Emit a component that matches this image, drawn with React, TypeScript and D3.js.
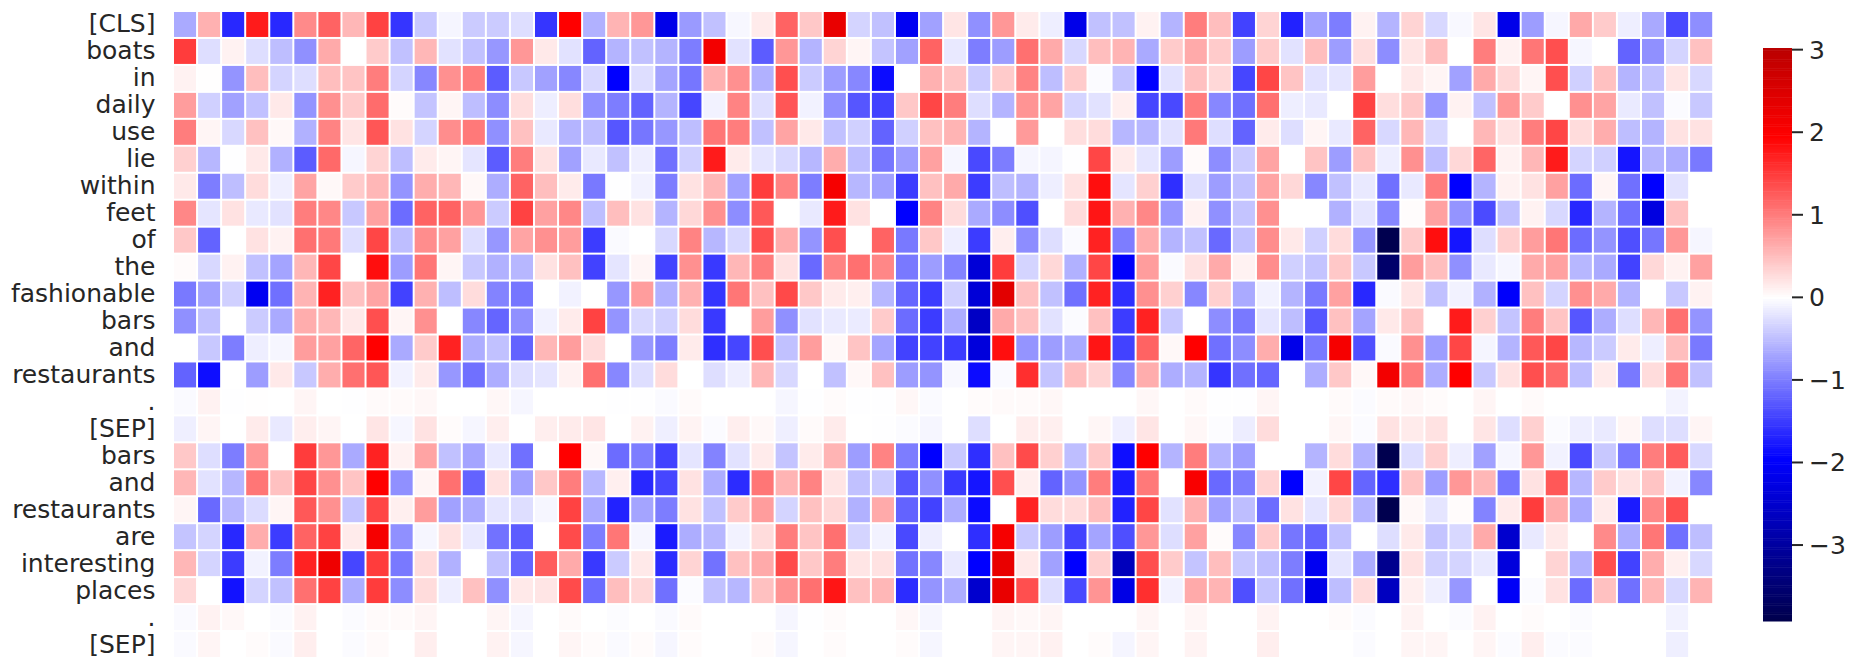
import * as d3 from "d3";

const tokens = ["[CLS]", "boats", "in", "daily", "use", "lie", "within", "feet", "of", "the", "fashionable", "bars", "and", "restaurants", ".", "[SEP]", "bars", "and", "restaurants", "are", "interesting", "places", ".", "[SEP]"];

// one row per token, 64 hidden dims
const rowCls = [-.65,.6,-1.65,1.75,-1.65,.9,1.2,.55,1.45,-1.55,-.42,-.08,-.4,-.4,-.25,-1.55,1.96,-.6, .58,.8,-2.2,-.78,-.48,-.06,.15,1.2,.42,2.3,-.33,-.48,-2.1,-.72,.2,-.85,.8,.15,-.13,-2.2,-.48,-.48,.1,-.58,1, .5,-1.45,.33,-1.7,-.72,-1,.1,-.58,.33,-.3,-.05,.2,-2.2,-.75,-.07,.66,.4,-.13,-.66,-1.4,-.87];
const rowBoats = [1.5,-.25,.1,-.25,-.5,-.85,.65,0,.4,-.48,.55,-.22,-.48,-.8,.8,.17,-.22,-1.2, -.58,-.48,-.58,-1,2.15,-.22,-1.25,.8,-.58,.33,.08,-.45,-.72,1.2,-.17,-1,-.75,1.1,.65,-.3,.5,.58,-.65,.4,.65, .4,-.75,.4,-.22,.5,-.75,.25,-.88,.2,.5,0,1,.1,1.05,1.35,-.07,0,-1.2,-.85,-.33,.48];
const rowIn = [.1,.01,-.82,.5,-.33,-.25,.5,.45,1,-.33,-.92,.85,1,-1.25,-.42,-.72,-.92,-.3, -1.96,-.25,-.7,-1.05,.6,.85,-.6,1.35,-.4,-.75,-.92,-1.87,0,.6,.45,-.4,.4,.95,-.5,.4,-.03,-.45,-1.95,-.22,.48, .3,-1.42,1.42,.45,-.22,-.2,.75,0,.17,.08,-.72,.65,.3,.08,1.35,-.36,.48,-.58,-.48,.2,-.3];
const rowDaily = [.75,-.36,-.72,-.48,.17,-.82,.85,.4,1.13,.03,-.45,.08,-.5,-.88,.25,-.13,.25,-.85, -1,-1.2,-.58,-1.42,-.1,.95,-.25,1.3,-.1,-.85,-1.3,-1.45,.42,1.42,1,-.25,-.58,.82,.7,-.33,-.22,.12,-1.42,-1.4,1, -.92,-1.1,1.1,-.13,-.17,0,1.45,.25,.42,-.8,.1,-.48,.8,.4,0,.85,.7,-.16,-.48,-.03,-.42];
const rowUse = [1,.08,-.3,.48,.05,-.6,.95,.2,1.3,.22,-.33,.88,1.03,-.85,.48,-.17,-.58,-.5, -1.3,-1.05,-.8,-.5,1.05,1,-.48,.7,.17,-.48,-.36,-1.2,-.36,.48,.58,-.58,-.01,.78,0,.25,.27,-.55,-.55,-.22,1.03, -.25,-1.2,.15,-.25,.08,-.17,1.2,-.3,.55,-.3,0,.55,.22,1,1.42,.27,.63,-.5,-.58,.22,.22];
const rowLie = [.36,-.55,-.01,.17,-.6,-1.25,1.15,-.07,.33,-.5,.15,.08,-.2,-1.25,1,.22,-.72,-.17, -.48,-.13,-1.1,-.36,1.75,.15,-.2,-.3,-.55,.63,-.5,-1.05,-.75,.72,-.07,-1.4,-1,-.07,-.08,-.01,1.42,.15,-.2,-.75,.04, -.88,-.4,.7,0,.45,-.75,.48,-.13,.85,-.5,.3,1.18,.1,.55,1.75,-.33,-.36,-1.8,-.58,-.63,-1.03];
const rowWithin = [.17,-1,-.5,.27,-.12,.7,.05,.4,.55,-.82,.63,.55,.05,-.63,1.2,.5,.15,-1.03, -.01,-.1,-1,.22,.55,-.72,1.5,.95,-1,2.1,-.55,-.72,-1.5,.48,.65,-1.5,-.5,-.58,-.13,.22,1.85,-.2,.36,-1.6,-.25, -.75,-.48,.7,.3,-.92,-.48,-.17,-1.1,-.17,1,-1.96,-.58,.1,.22,.72,-1.13,.08,-1.1,-1.96,-.22,0];
const rowFeet = [.92,-.2,.22,-.17,-.22,1,.92,-.42,.72,-1.13,1.2,1.2,.8,-.4,1.45,.72,.92,-.5, .5,.22,-.58,.3,.85,-.88,1.28,0,-.17,1.75,.22,0,-1.96,.95,.27,-.65,-.88,-1.35,0,.27,1.8,.6,.92,-.8,.1, -.85,-.45,.85,0,0,-.6,-.2,-.92,.02,.72,-.82,-1.38,-.48,.1,-.3,-1.65,-.58,-1.1,-2.3,.48,0];
const rowOf = [.42,-1.2,0,.22,.1,1.1,1.03,-.25,1.42,-.5,.88,.72,-.25,-.8,.7,.85,.75,-1.5, -.04,0,-.3,.95,-.55,-.3,1.35,.63,-.82,1.35,0,1.2,-1.03,.42,-.13,-1.5,.13,-.88,-.25,-.04,1.7,-1,.63,-.58,-.48, -1.15,-.48,.88,.17,-.36,.27,-.8,-3.9,.4,1.85,-1.8,-.25,.36,.75,1.05,-1.13,-.82,-1.35,-1.05,.8,-.07];
const rowThe = [.03,-.3,.1,-.48,-.7,.55,1.42,0,1.85,-.75,1.05,.08,-.42,-.6,-.55,.22,.48,-1.45, -.2,.08,-1.45,.85,-1.52,.55,1,.22,-1.15,.95,1.1,.92,-1.03,-.75,-.95,-2.4,1.5,-.33,.3,-.6,1.42,-2,.75,-.04,.22, .65,.1,.88,-.36,-.45,.42,-.42,-3.6,.75,.5,-.85,-.17,-.07,.65,.72,-.55,-.65,-1.45,.3,.1,.72];
const rowFashionable = [-1.03,-.72,-.36,-2.1,-1.1,.58,1.7,.48,.7,-1.45,.6,-.5,.27,-.95,-1.05,0,-.1,0, -.8,.75,-.6,.6,-1.55,1.05,.48,1.4,.42,.15,.12,-.55,-1.18,-1.5,-.36,-2.4,2.4,.48,-.48,-1.1,1.7,-1.6,.85,.36,-.92, .36,-.65,-.1,-.58,-1.03,.72,-1.65,-.04,.2,-.48,-.1,-.6,-2,.48,-.33,.85,.65,-.58,0,-.42,.1];
const rowBars = [-.85,-.48,0,-.4,-.65,.63,.55,.17,1.35,.08,.85,0,-.92,-1.18,-.85,-.1,.15,1.45, -.82,-.3,-.36,.27,-1.52,0,.75,-.85,-.22,-.16,-.15,.4,-1.13,-1.5,-.63,-2.6,.65,.48,-.22,-.03,.48,-1.5,1.7,-.42,0, -.88,-1.03,-.2,-.5,-1.3,.48,-.7,.17,.45,0,1.75,.36,-.45,1,.45,-1.3,-.63,-.25,.55,1.1,-.82];
const rowAnd = [0,-.42,-1,-.13,-.07,.75,.72,1.18,1.96,-.65,.4,1.7,-.63,-.48,-1.2,.55,.75,.27, 0,-.8,-1,.15,-1.6,-1.42,1.35,-.48,.75,.05,.45,-.7,-1.45,-1.45,-1.5,-2.35,1.85,-.82,-.75,-.65,1.8,-1.45,1.2,.05,1.96, -1.1,-.88,.63,-2.2,-1.03,2.1,-1.35,-.04,.85,-.75,1.42,-.08,-.58,1.28,1.42,-.55,-.4,.15,-.13,.5,-1.03];
const rowRestaurants = [-1.2,-1.85,0,-.75,.17,-.42,.63,1.1,1.3,-.1,.15,-.8,-1.1,-.63,-.25,-.2,.1,1.1, -.92,-.25,.27,0,-.25,-.13,.55,-.3,0,-.48,.05,.48,-.75,-.82,-.05,-1.87,-.04,1.6,-.45,.5,.33,-.92,.63,-.63,-.58, -1.55,-1.1,-1.18,0,-.63,.42,.05,2.15,1,-.63,1.96,-.42,.22,1.35,1.15,-.5,.15,-1.03,.27,1.05,-.48];
const rowDot = [-.04,.1,-.01,.01,0,.08,0,-.01,.04,.04,.06,0,0,.06,-.07,0,0,0, -.01,-.01,-.04,.04,0,0,0,-.07,-.01,.03,-.01,-.01,.06,-.04,0,.03,.04,.04,.06,0,0,0,.06,0,.04, -.01,-.01,.08,0,0,.04,-.03,.04,.06,.03,0,.08,0,.04,0,0,0,0,0,-.09,0];
const rowSep = [-.12,.08,0,.15,-.17,.13,.08,0,.2,-.07,.22,.03,-.07,.13,0,.13,.15,.2, 0,.1,-.12,.09,-.03,.13,.05,-.12,.04,.15,0,-.01,-.03,-.07,0,-.25,0,.14,.12,0,.07,-.12,.2,0,.06, -.02,-.14,.27,0,0,.07,-.03,.22,.15,.22,0,.2,-.25,.36,-.03,-.13,-.16,.07,-.25,-.25,.08];
const rowBars2 = [.42,-.25,-1,.8,0,1.5,.8,-.65,1.7,.1,.7,-.48,-.7,-.17,-1.1,0,1.96,.05, -1.13,-1,-1.45,-.2,-.95,-.22,.15,-.45,.15,.58,-.75,.95,-1,-1.97,-.42,-1.6,.48,1.38,.36,-.5,.42,-1.85,1.96,-.58,1, -.58,-.75,0,0,-.58,.27,-.6,-3.9,-.25,.36,-.13,-.72,-.07,.8,-.1,-1.38,-.42,-1.03,1,1.25,-.3];
const rowAnd2 = [.55,-.22,-.55,1.05,.48,1.42,.85,.45,1.96,-.85,.08,1.1,-1.2,.22,-.72,.42,1,-.55, .12,-1.65,-1.42,.22,-.63,-1.62,1.05,.58,.95,.2,-.48,-.4,-1.3,-.85,-1.52,-1.8,1.35,.12,-1.2,-.82,1,-1.75,1.03,0,2.05, -1.15,-1,.33,-1.96,-.1,1.42,-1.18,-1.6,.45,-.75,.8,.55,-1.05,.22,1.28,-.55,.4,.22,.45,-.1,-.92];
const rowRestaurants2 = [.08,-1.15,-.55,-.27,.08,1.28,.85,-.45,1.42,.12,.75,-.72,-.65,-.2,-.25,-.07,1.45,-.65, -1.7,-.7,-1,.22,-.48,.4,.75,-.33,.48,.3,-.6,.65,-1.2,-1.45,-.63,-1.87,0,1.7,.27,.27,.5,-1.7,1.42,-.22,.6, -.72,-.5,-1.13,.22,-.2,.3,-.58,-3.9,.05,-.2,.03,-.95,.15,1.5,.63,-.65,.15,-1.75,.92,1.35,0];
const rowAre = [-.45,-.33,-1.65,.63,-1.5,1.2,1.45,.15,2.1,-.85,-.07,.22,-.17,-1.08,-1.25,0,1.38,-1, 1.05,-.07,-1.75,-.63,-.55,-.1,.27,1,.45,1.1,-.33,-.1,-1.4,-.13,0,-1.6,2.1,-.42,-.75,-1.45,-.7,-1.35,.8,-.25,.72, .03,-.92,.4,-1.05,-1.2,-.48,0,-.25,.16,-.45,-.3,.65,-2.5,-.17,.17,0,.9,-.63,1.05,-1.1,-.5];
const rowInteresting = [.55,-.33,-1.5,-.1,-1,1.7,2.2,-1.42,1.5,-1.03,.27,-.6,0,-.48,-1.18,1.25,.65,-1.52, -.4,.17,-1.62,.33,-1.08,.48,.65,1.38,.42,1,.2,.22,-1.08,-.92,-.17,-1.96,2.3,.17,-.72,-1.96,.36,-2.7,1.35,.4,-.45, .5,-.42,-.5,-1,-2.1,-.2,-.63,-3.2,.22,-.36,-.33,-.17,-2.35,0,.33,-.6,1.35,-1.45,.63,.12,-.3];
const rowPlaces = [.3,0,-1.82,-.33,-.48,1.1,1.45,-.63,1.5,-.88,.27,-.13,.48,-.85,.17,.2,1.38,-1.13, .5,.3,-1.1,-.03,-.48,-.55,.48,.82,1.1,1.8,.48,.55,-1.62,-.82,-.63,-2.5,2.3,1.35,-.25,-1.4,.82,-2.25,1.6,-.1,.65, .58,-1.35,-.45,-1.1,-2.2,-.5,.27,-2.65,.12,-.12,-.8,0,-2.05,-.03,.22,-1.13,.48,-1.1,.55,-.3,.58];
const rowDot2 = [-.04,.1,.05,0,-.03,.1,0,-.03,.04,.04,.08,0,0,.08,-.07,0,.04,0, -.02,0,-.04,.04,0,0,0,-.07,-.01,.03,0,0,.06,-.07,0,0,.08,.05,.08,0,0,0,.07,0,.07, 0,0,.09,0,0,.03,-.03,0,.09,0,-.03,.1,0,.03,0,-.03,0,0,0,-.1,0];
const rowSep2 = [-.04,.08,0,.03,-.04,.13,0,-.03,.04,0,.13,0,0,.1,-.07,0,.08,.03, -.04,.03,-.07,.03,0,0,.03,-.07,0,.03,0,0,.03,-.07,0,0,.08,.08,.11,0,.03,-.08,.08,0,.09, 0,0,.13,0,0,0,-.03,0,.08,.08,0,.08,-.03,.13,-.03,-.03,0,0,0,-.12,0];

const values = [rowCls, rowBoats, rowIn, rowDaily, rowUse, rowLie, rowWithin, rowFeet, rowOf, rowThe, rowFashionable, rowBars, rowAnd, rowRestaurants, rowDot, rowSep, rowBars2, rowAnd2, rowRestaurants2, rowAre, rowInteresting, rowPlaces, rowDot2, rowSep2];

const barTicks = [-3, -2, -1, 0, 1, 2, 3];
const vmin = -3.92;
const vmax = 3.02;

const textColor = "#262626";
const font = "'DejaVu Sans', sans-serif";

// seismic, centred at 0 like seaborn does it
const vrange = Math.max(-vmin, vmax);
const seismic = d3
  .scaleLinear<string>()
  .domain([-vrange, -vrange / 2, 0, vrange / 2, vrange])
  .range(["#00004d", "#0000ff", "#ffffff", "#ff0000", "#800000"]);

export default function App() {
  const x = d3.scaleBand<number>().domain(d3.range(64)).range([173, 1713.2]);
  const y = d3.scaleBand<number>().domain(d3.range(tokens.length)).range([11, 658]);
  const barY = d3.scaleLinear().domain([vmin, vmax]).range([621, 48]);
  const bands = d3.range(256).map((i) => vmin + ((vmax - vmin) * i) / 255);
  const bandH = (barY(vmin) - barY(vmax)) / 256;

  return (
    <svg width={1856} height={670} style={{ position: "absolute", left: 0, top: 0, background: "#fff" }} fontFamily={font}>
      <g>
        {values.map((row, r) =>
          row.map((v, c) => (
            <rect key={`${r}-${c}`} x={x(c)! + 1} y={y(r)! + 1} width={x.bandwidth() - 2} height={y.bandwidth() - 2} fill={seismic(v)} />
          ))
        )}
      </g>
      <g textAnchor="end" fontSize={25} fill={textColor}>
        {tokens.map((t, r) => (
          <text key={r} x={155.5} y={y(r)! + y.bandwidth() / 2 + 8}>
            {t}
          </text>
        ))}
      </g>
      <g>
        {bands.map((v, i) => (
          <rect key={i} x={1763} y={621 - (i + 1) * bandH} width={29} height={bandH + 0.5} fill={seismic(v)} />
        ))}
        {barTicks.map((t) => (
          <g key={t} transform={`translate(0,${barY(t)})`}>
            <line x1={1792} x2={1803} stroke={textColor} strokeWidth={2} />
            <text x={1809} y={9} fontSize={25} fill={textColor}>
              {d3.format("d")(t)}
            </text>
          </g>
        ))}
      </g>
    </svg>
  );
}
